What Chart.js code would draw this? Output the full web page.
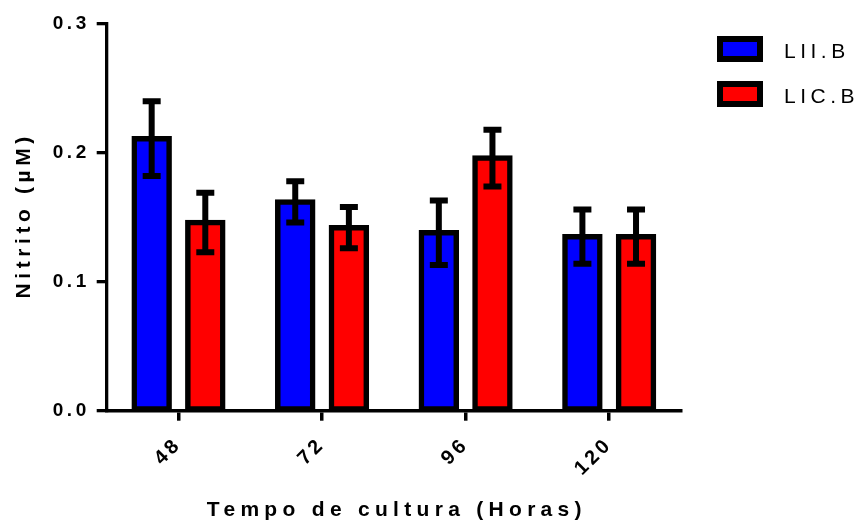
<!DOCTYPE html>
<html>
<head>
<meta charset="utf-8">
<title>Nitrito</title>
<script src="https://cdn.jsdelivr.net/npm/chart.js@4/dist/chart.umd.min.js"></script>
<style>
  body { margin: 0; background: #fff; }
  #wrap { position: relative; width: 860px; height: 529px; }
  .legend-item { position: absolute; left: 717px; height: 26px; }
  .legend-box { position: absolute; left: 0; top: 0; width: 34px; height: 14px; border: 6px solid #000; }
  .legend-text { position: absolute; left: 67px; top: 2px; font: 21px 'Liberation Sans', Arial, sans-serif; letter-spacing: 4.5px; color: #000; line-height: 26px; white-space: nowrap; }
</style>
</head>
<body>
<div id="wrap">
  <canvas id="chart" width="860" height="529"></canvas>
  <div id="legend"></div>
</div>
<script>
'use strict';

// Data
let categories = ['48', '72', '96', '120'];
let seriesNames = ['LII.B', 'LIC.B'];
let liiMeans = [0.211, 0.162, 0.138, 0.135];
let liiErrors = [0.029, 0.016, 0.025, 0.021];
let licMeans = [0.146, 0.142, 0.196, 0.135];
let licErrors = [0.023, 0.016, 0.022, 0.021];
let seriesColors = ['#0000ff', '#ff0000'];

let fontFamily = "'Liberation Sans', Arial, sans-serif";

// Draws the mean +/- error whiskers on top of the bars.
let errorBars = {
  id: 'errorBars',
  afterDatasetsDraw(chart) {
    let ctx = chart.ctx;
    let yScale = chart.scales.y;
    ctx.save();
    ctx.strokeStyle = '#000';
    ctx.lineWidth = 6;
    chart.data.datasets.forEach(function (ds, i) {
      let meta = chart.getDatasetMeta(i);
      meta.data.forEach(function (bar, j) {
        let top = yScale.getPixelForValue(ds.data[j] + ds.errors[j]);
        let bottom = yScale.getPixelForValue(ds.data[j] - ds.errors[j]);
        ctx.beginPath();
        ctx.moveTo(bar.x, top);
        ctx.lineTo(bar.x, bottom);
        ctx.moveTo(bar.x - 9, top);
        ctx.lineTo(bar.x + 9, top);
        ctx.moveTo(bar.x - 9, bottom);
        ctx.lineTo(bar.x + 9, bottom);
        ctx.stroke();
      });
    });
    ctx.restore();
  }
};

// Wide letter spacing like the original export, plus the axis titles.
let spacedText = {
  id: 'spacedText',
  beforeDraw(chart) {
    chart.ctx.letterSpacing = '3.5px';
  },
  afterDraw(chart) {
    let ctx = chart.ctx;
    let area = chart.chartArea;
    ctx.save();
    ctx.fillStyle = '#000';
    ctx.font = 'bold 21px ' + fontFamily;
    ctx.textAlign = 'center';
    ctx.textBaseline = 'middle';
    ctx.letterSpacing = '5.3px';
    ctx.fillText('Tempo de cultura (Horas)', (area.left + area.right) / 2 + 3, 510);
    ctx.letterSpacing = '4.6px';
    ctx.translate(24, (area.top + area.bottom) / 2);
    ctx.rotate(-Math.PI / 2);
    ctx.fillText('Nitrito (\u00b5M)', 2, 0);
    ctx.restore();
  }
};

let ctx = document.getElementById('chart').getContext('2d');

new Chart(ctx, {
  type: 'bar',
  data: {
    labels: categories,
    datasets: [
      {
        label: seriesNames[0],
        data: liiMeans,
        errors: liiErrors,
        backgroundColor: seriesColors[0],
        borderColor: '#000',
        borderWidth: 5.5,
        borderSkipped: false,
        inflateAmount: 2.75,
        categoryPercentage: 0.747,
        barPercentage: 0.652
      },
      {
        label: seriesNames[1],
        data: licMeans,
        errors: licErrors,
        backgroundColor: seriesColors[1],
        borderColor: '#000',
        borderWidth: 5.5,
        borderSkipped: false,
        inflateAmount: 2.75,
        categoryPercentage: 0.747,
        barPercentage: 0.652
      }
    ]
  },
  options: {
    responsive: false,
    animation: false,
    layout: {
      padding: { top: 24, right: 179, bottom: 0, left: 0 }
    },
    scales: {
      x: {
        afterFit(scale) { scale.height = 118.3; },
        grid: {
          offset: false,
          drawOnChartArea: false,
          drawTicks: true,
          tickLength: 10,
          color: '#000',
          lineWidth: 3.5
        },
        border: { display: true, color: '#000', width: 3.5 },
        ticks: {
          color: '#000',
          font: { family: fontFamily, size: 20, weight: 'bold' },
          minRotation: 45,
          maxRotation: 45,
          padding: 12
        }
      },
      y: {
        min: 0,
        max: 0.3,
        afterFit(scale) { scale.width = 106.7; },
        grid: {
          drawOnChartArea: false,
          drawTicks: true,
          tickLength: 10,
          color: '#000',
          lineWidth: 3.3
        },
        border: { display: true, color: '#000', width: 3.3 },
        ticks: {
          stepSize: 0.1,
          color: '#000',
          padding: 7,
          font: { family: fontFamily, size: 19, weight: 'bold' },
          callback: function (value) { return value.toFixed(1); }
        }
      }
    },
    plugins: {
      legend: { display: false },
      tooltip: { enabled: false }
    }
  },
  plugins: [errorBars, spacedText]
});

// HTML legend at the top right
let legend = document.getElementById('legend');
for (let i = 0; i < seriesNames.length; i++) {
  let item = document.createElement('div');
  item.className = 'legend-item';
  item.style.top = (36 + i * 45) + 'px';
  let box = document.createElement('div');
  box.className = 'legend-box';
  box.style.background = seriesColors[i];
  let text = document.createElement('div');
  text.className = 'legend-text';
  text.textContent = seriesNames[i];
  item.appendChild(box);
  item.appendChild(text);
  legend.appendChild(item);
}
</script>
</body>
</html>
